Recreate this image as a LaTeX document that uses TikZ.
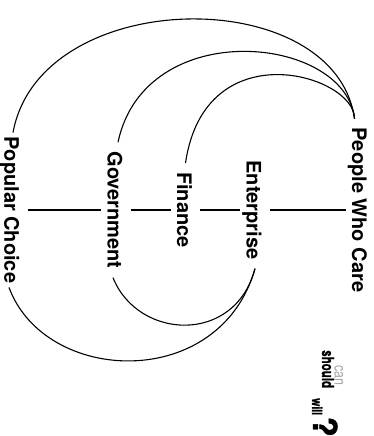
\documentclass[tikz,border=0pt]{standalone}
\usepackage{fontspec}
\setmainfont{TeX Gyre Heros}
\newfontfamily\heavyfont[BoldFeatures={FakeBold=1.2}]{TeX Gyre Heros}
\begin{document}
\begin{tikzpicture}[x=1pt,y=-1pt,
  lbl/.style={rotate=-90, anchor=base, font=\fontsize{20}{24}\selectfont\bfseries,
    text height=17pt, text depth=0pt, inner xsep=9pt, inner ysep=6pt},
  small/.style={rotate=-90, anchor=base west, inner sep=0pt},
  link/.style={line width=1.1pt, black}]
\useasboundingbox (0,0) rectangle (374,436);
% labels
\node[lbl, inner xsep=4pt] (pc)  at (4.5,210)  {Popular Choice};
\node[lbl] (gov) at (107.5,210) {Government};
\node[lbl] (fin) at (177,210)   {Finance};
\node[lbl] (ent) at (246.5,210) {Enterprise};
\node[lbl] (pwc) at (352,210)   {People Who Care};
% chain
\draw[link] (pc.north)  -- (gov.south);
\draw[link] (gov.north) -- (fin.south);
\draw[link] (fin.north) -- (ent.south);
\draw[link] (ent.north) -- (pwc.south);
% upper arcs
\draw[link] (pc.west) .. controls (40,-15) and (335,-18) .. ([xshift=-6pt]pwc.west);
\draw[link] ([xshift=2pt]gov.west) .. controls (145,15) and (345,35) .. ([xshift=-6pt]pwc.west);
\draw[link] (fin.west) .. controls (205,30) and (355,75) .. ([xshift=-6pt]pwc.west);
% lower arcs
\draw[link] (ent.east) .. controls (235,345) and (138,340) .. ([xshift=-3pt]gov.east);
\draw[link] (ent.east) .. controls (220,392) and (45,385) .. ([xshift=-4pt]pc.east);
% can / should / will ?
\node[small, font=\heavyfont\fontsize{16.5}{16}\selectfont\bfseries] (should) at (322,350) {\scalebox{0.7}[1]{should}};
\node[small, font=\fontsize{16}{16}\selectfont, text=black!35] (can) at (334.5,365) {\scalebox{0.78}[1]{can}};
\node[small, font=\heavyfont\fontsize{14}{14}\selectfont\bfseries] (will) at (312,398) {\scalebox{0.75}[1]{will}};
\node[small, font=\heavyfont\fontsize{33}{33}\selectfont\bfseries] (qm) at (313,416.5) {?};
\end{tikzpicture}
\end{document}
